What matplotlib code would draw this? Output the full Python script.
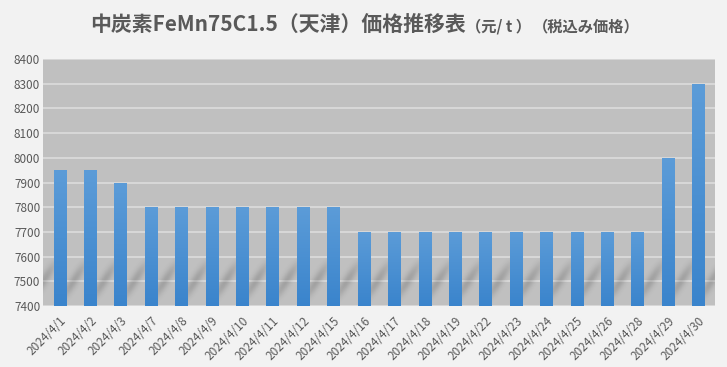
import numpy as np
import matplotlib
matplotlib.use("Agg")
from matplotlib import pyplot as plt
from matplotlib.colors import LinearSegmentedColormap

# data
dates = ['2024/4/1', '2024/4/2', '2024/4/3', '2024/4/7', '2024/4/8', '2024/4/9',
         '2024/4/10', '2024/4/11', '2024/4/12', '2024/4/15', '2024/4/16', '2024/4/17',
         '2024/4/18', '2024/4/19', '2024/4/22', '2024/4/23', '2024/4/24', '2024/4/25',
         '2024/4/26', '2024/4/28', '2024/4/29', '2024/4/30']
prices = [7950, 7950, 7900, 7800, 7800, 7800, 7800, 7800, 7800, 7800, 7700, 7700,
          7700, 7700, 7700, 7700, 7700, 7700, 7700, 7700, 8000, 8300]

plt.rcParams['font.family'] = ['Noto Sans CJK JP', 'DejaVu Sans']
text_col = '#595959'

fig = plt.figure(figsize=(7.27, 3.67), dpi=100, facecolor='#f2f2f2')
ax = fig.add_axes([43 / 727, 1 - 306 / 367, (715 - 43) / 727, (306 - 59) / 367])
ax.set_facecolor('#c0c0c0')

x = np.arange(len(dates))
xmin, xmax = -0.55, len(dates) - 0.45

# soft diagonal shadow band along the bottom
xs = np.linspace(xmin, xmax, 900)
ys = np.linspace(0, 1, 120)
X, Y = np.meshgrid(xs, ys)
u = (X - 0.45 - Y * 1.0) % 1.0
stripe = np.exp(-((u - 0.5) ** 2) / 0.03)
fade = np.sin(np.pi * Y) ** 1.2
shade = np.zeros(X.shape + (4,))
shade[..., 3] = 0.16 * stripe * fade
ax.imshow(shade, aspect='auto', origin='lower', extent=(xmin, xmax, 7400, 7600),
          zorder=2, interpolation='bilinear')

bars = ax.bar(x, prices, width=0.4, color='#4a90d4', zorder=3)

# vertical gradient on the bars
cmap = LinearSegmentedColormap.from_list('blu', ['#3a84cc', '#5c9cd8'])
grad = np.linspace(0, 1, 256).reshape(-1, 1)
for b in bars:
    x0, w = b.get_x(), b.get_width()
    im = ax.imshow(grad, cmap=cmap, aspect='auto', origin='lower',
                   extent=(x0, x0 + w, 7400, b.get_height()), zorder=3)
    im.set_clip_path(b)
    b.set_alpha(0)

ax.set_xlim(xmin, xmax)
ax.set_ylim(7400, 8400)
ax.set_yticks(range(7400, 8401, 100))
ax.grid(axis='y', color='#dcdcdc', linewidth=1.2, zorder=1)
ax.set_axisbelow(True)
for s in ax.spines.values():
    s.set_visible(False)
ax.tick_params(length=0, colors=text_col, labelsize=8.5)
ax.set_xticks(x)
ax.set_xticklabels(dates, rotation=45, ha='right', rotation_mode='anchor')
ax.tick_params(axis='x', pad=6)
ax.tick_params(axis='y', pad=2)

# title in pieces
base_y = 1 - 31 / 367
t1 = fig.text(90 / 727, base_y, '中炭素FeMn75C1.5（天津）価格推移表',
              fontsize=15, fontweight='bold', color=text_col, va='baseline')
fig.canvas.draw()
r = fig.canvas.get_renderer()
bb = t1.get_window_extent(r)
ypix = fig.transFigure.transform((0, base_y))[1]
t2 = fig.text(bb.x1, ypix, '（元/ t ）', fontsize=11, fontweight='bold',
              color=text_col, va='baseline', transform=None)
fig.canvas.draw()
bb2 = t2.get_window_extent(r)
fig.text(bb2.x1 + 2, ypix, '（税込み価格）', fontsize=11, fontweight='bold',
         color=text_col, va='baseline', transform=None)

fig.savefig('out.png', dpi=100, facecolor=fig.get_facecolor())
